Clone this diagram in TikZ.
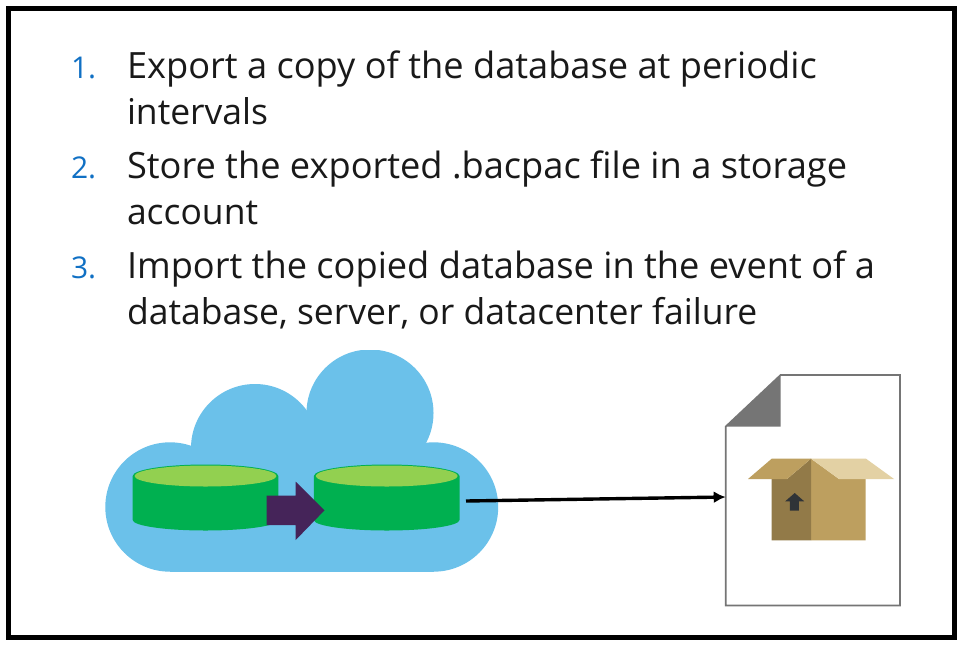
\documentclass[tikz,border=0pt]{standalone}
\usepackage{fontspec}
\usetikzlibrary{arrows.meta}
\setmainfont{Open Sans}
\definecolor{cloudblue}{HTML}{6BC1EA}
\definecolor{dbgreen}{HTML}{00B050}
\definecolor{dblight}{HTML}{92D050}
\definecolor{arrowpurple}{HTML}{452459}
\definecolor{numblue}{HTML}{1070C4}
\definecolor{boxmid}{HTML}{BD9F5F}
\definecolor{boxdark}{HTML}{927A48}
\definecolor{boxlight}{HTML}{E3D1A4}
\definecolor{docgray}{HTML}{757575}
\definecolor{iconink}{HTML}{2F3337}
\tikzset{
  x=1pt,y=-1pt,
  itemtext/.style={anchor=base west,inner sep=0pt,outer sep=0pt,text=black!90,font=\fontsize{36.2}{42}\selectfont},
  itemtextsmall/.style={itemtext,font=\fontsize{35.5}{42}\selectfont},
  itemnum/.style={anchor=base west,inner sep=0pt,outer sep=0pt,text=numblue,font=\fontsize{30}{36}\selectfont},
}
\newcommand{\dbdisk}[1]{%
  \begin{scope}[shift={(#1,0)}]
    \fill[dbgreen] (0,476) -- (0,520) arc[x radius=72.8,y radius=10.5,start angle=180,end angle=0] -- (145.6,476) arc[x radius=72.8,y radius=11.5,start angle=0,end angle=-180] -- cycle;
    \fill[dblight] (72.8,476) ellipse[x radius=71,y radius=10.5];
  \end{scope}}
\begin{document}
\begin{tikzpicture}
\useasboundingbox (0,0) rectangle (960,645);
\fill[white] (0,0) rectangle (960,645);
\draw[black,line width=5pt] (8.5,8.5) rectangle (954,637);

\node[itemnum] (n1) at (71,78) {1.};
\node[itemtext] (t1) at (127,78) {Export a copy of the database at periodic};
\node[itemtextsmall] (t1b) at (127,124) {intervals};
\node[itemnum] (n2) at (71,178) {2.};
\node[itemtext] (t2) at (127,178) {Store the exported .bacpac file in a storage};
\node[itemtextsmall] (t2b) at (127,224) {account};
\node[itemnum] (n3) at (71,278) {3.};
\node[itemtext] (t3) at (127,278) {Import the copied database in the event of a};
\node[itemtextsmall] (t3b) at (127,324) {database, server, or datacenter failure};

\begin{scope}
  \clip (90,350) rectangle (510,580);
  \fill[cloudblue] (170,507) circle[radius=64.7];
  \fill[cloudblue] (433.5,507) circle[radius=64.7];
  \fill[cloudblue] (170,507) rectangle (433.5,571.7);
  \fill[cloudblue] (191.5,446) rectangle (433.5,507);
  \fill[cloudblue] (255,448) circle[radius=64];
  \fill[cloudblue] (370,413) circle[radius=63.5];
  \fill[cloudblue] (255,420) rectangle (425,445);
\end{scope}

\dbdisk{132.7}
\dbdisk{313.9}
\fill[arrowpurple] (266.7,495.7) -- (295.7,495.7) -- (295.7,481.7) -- (324.5,510.3) -- (295.7,540) -- (295.7,525) -- (266.7,525) -- cycle;

\draw[draw=docgray,line width=1.6pt,fill=white] (780.5,375) -- (900,375) -- (900,605.5) -- (725.7,605.5) -- (725.7,426.5) -- cycle;
\fill[docgray] (780.5,375) -- (780.5,426.5) -- (725.7,426.5) -- cycle;

\coordinate (src) at (466,501);
\coordinate (dst) at (725.7,497);
\draw[black,line width=3.4pt,-{Latex[length=12pt,width=12pt]}] (src) -- (dst);

\fill[boxmid] (811,458.7) -- (839,479) -- (865.7,479) -- (865.7,540.3) -- (811,540.3) -- cycle;
\fill[boxdark] (771.7,479) -- (787,479) -- (811,458.7) -- (811,540.3) -- (771.7,540.3) -- cycle;
\fill[boxmid] (771.7,458.7) -- (811,458.7) -- (787,479) -- (748,479) -- cycle;
\fill[boxlight] (811,458.7) -- (866,458.7) -- (894,479) -- (839,479) -- cycle;
\fill[iconink] (794.7,493) -- (804.2,501.3) -- (798.8,501.3) -- (798.8,510.5) -- (789.8,510.5) -- (789.8,501.3) -- (785.2,501.3) -- cycle;
\end{tikzpicture}
\end{document}
